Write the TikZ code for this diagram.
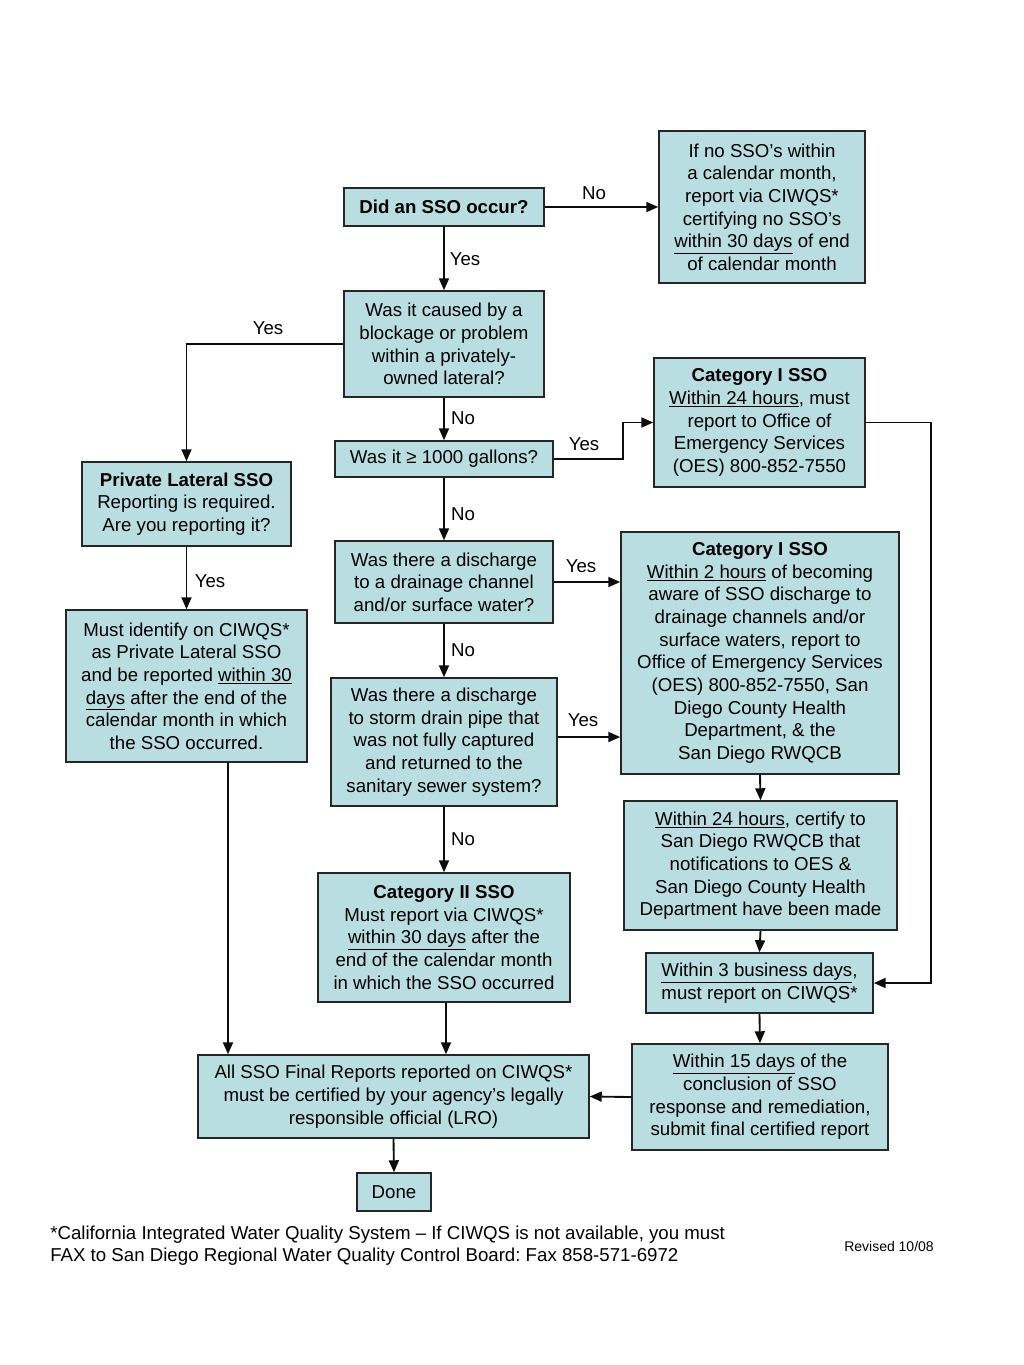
\documentclass[tikz,border=0pt]{standalone}
\usepackage{fontspec}
\setmainfont{Liberation Sans}
\usetikzlibrary{arrows.meta,calc}
\definecolor{boxfill}{RGB}{185,222,225}
\frenchspacing
\begin{document}
\begin{tikzpicture}[x=0.75pt,y=-0.75pt,
  box/.style={draw=black!85, line width=1.1pt, fill=boxfill, align=center, inner sep=0pt,
              font=\fontsize{14}{17}\selectfont, text=black},
  conn/.style={line width=1.4pt, draw=black!95, -{Triangle[length=9pt,width=7.5pt]}},
  lbl/.style={font=\fontsize{14}{17}\selectfont, inner sep=0pt, text=black}]
\useasboundingbox (0,0) rectangle (1024,1365);
\fill[white] (0,0) rectangle (1024,1365);

\node[box, minimum width=150pt, minimum height=28.5pt] (n1) at (444,207) {\textbf{Did an SSO occur?}};
\node[box, minimum width=154.5pt, minimum height=114pt] (n2) at (762,207)
  {If no SSO’s within\\a calendar month,\\report via CIWQS*\\certifying no SSO’s\\\underline{within 30 days} of end\\of calendar month};
\node[box, minimum width=150pt, minimum height=79.5pt] (n3) at (444,344)
  {Was it caused by a\\blockage or problem\\within a privately-\\owned lateral?};
\node[box, minimum width=156.75pt, minimum height=63pt] (n5) at (186.5,504)
  {\textbf{Private Lateral SSO}\\Reporting is required.\\Are you reporting it?};
\node[box, minimum width=180.75pt, minimum height=114pt] (n6) at (186.5,686)
  {Must identify on CIWQS*\\as Private Lateral SSO\\and be reported \underline{within 30}\\\underline{days} after the end of the\\calendar month in which\\the SSO occurred.};
\node[box, minimum width=163.5pt, minimum height=27pt] (n7) at (444,459) {Was it ≥ 1000 gallons?};
\node[box, minimum width=158.25pt, minimum height=96.75pt] (n8) at (759.5,422.5)
  {\textbf{Category I SSO}\\\underline{Within 24 hours}, must\\report to Office of\\Emergency Services\\(OES) 800-852-7550};
\node[box, minimum width=163.5pt, minimum height=61.5pt] (n9) at (444,582)
  {Was there a discharge\\to a drainage channel\\and/or surface water?};
\node[box, minimum width=208.5pt, minimum height=181.5pt] (n10) at (760,653)
  {\textbf{Category I SSO}\\\underline{Within 2 hours} of becoming\\aware of SSO discharge to\\drainage channels and/or\\surface waters, report to\\Office of Emergency Services\\(OES) 800-852-7550, San\\Diego County Health\\Department, \& the\\San Diego RWQCB};
\node[box, minimum width=169.5pt, minimum height=96pt] (n11) at (444,742)
  {Was there a discharge\\to storm drain pipe that\\was not fully captured\\and returned to the\\sanitary sewer system?};
\node[box, minimum width=189pt, minimum height=96.75pt] (n12) at (444,937.5)
  {\textbf{Category II SSO}\\Must report via CIWQS*\\\underline{within 30 days} after the\\end of the calendar month\\in which the SSO occurred};
\node[box, minimum width=204.75pt, minimum height=96.75pt] (n13) at (760.5,865.5)
  {\underline{Within 24 hours}, certify to\\San Diego RWQCB that\\notifications to OES \&\\San Diego County Health\\Department have been made};
\node[box, minimum width=170.25pt, minimum height=45pt] (n14) at (759.5,983)
  {\underline{Within 3 business days},\\must report on CIWQS*};
\node[box, minimum width=192pt, minimum height=79.5pt] (n15) at (760,1097)
  {\underline{Within 15 days} of the\\conclusion of SSO\\response and remediation,\\submit final certified report};
\node[box, minimum width=293.25pt, minimum height=62.25pt] (n16) at (393.5,1096.5)
  {All SSO Final Reports reported on CIWQS*\\must be certified by your agency’s legally\\responsible official (LRO)};
\node[box, minimum width=55.5pt, minimum height=28.5pt] (n17) at (394,1192) {Done};

% connectors
\draw[conn] (n1.east) -- (n2.west);
\draw[conn] (n1.south) -- (n3.north);
\draw[conn] (n3.west) -| (n5.north);
\draw[conn] (n5.south) -- (n6.north);
\draw[conn] (n3.south) -- (n7.north);
\draw[conn] (n7.east) -- ++(69,0) |- (n8.west);
\draw[conn] (n7.south) -- (n9.north);
\draw[conn] (n9.east) -- (n9.east -| n10.west);
\draw[conn] (n9.south) -- (n11.north);
\draw[conn] ($(n11.east)+(0,-5)$) -- ($(n11.east -| n10.west)+(0,-5)$);
\draw[conn] (n11.south) -- (n12.north);
\draw[conn] (n10.south) -- (n13.north);
\draw[conn] (n13.south) -- (n14.north);
\draw[conn] (n8.east) -- ++(65,0) |- (n14.east);
\draw[conn] (n14.south) -- (n15.north);
\draw[conn] (n15.west) -- (n16.east);
\draw[conn] ($(n6.south)+(41.5,0)$) coordinate (a6) -- (a6 |- n16.north);
\draw[conn] ($(n12.south)+(2,0)$) coordinate (a12) -- (a12 |- n16.north);
\draw[conn] (n16.south) -- (n17.north);

% labels
\node[lbl] (l1) at (594,193) {No};
\node[lbl] (l2) at (465,259) {Yes};
\node[lbl] (l3) at (268,328) {Yes};
\node[lbl] (l4) at (463,418) {No};
\node[lbl] (l5) at (584,444) {Yes};
\node[lbl] (l6) at (463,514) {No};
\node[lbl] (l7) at (210,581) {Yes};
\node[lbl] (l8) at (581,566) {Yes};
\node[lbl] (l9) at (463,650) {No};
\node[lbl] (l10) at (583,720) {Yes};
\node[lbl] (l11) at (463,839) {No};

% footnote
\node[lbl, anchor=west, align=left] (foot) at (50,1245.5)
  {*California Integrated Water Quality System – If CIWQS is not available, you must\\FAX to San Diego Regional Water Quality Control Board: Fax 858-571-6972};
\node[lbl, font=\fontsize{10.5}{12}\selectfont] (rev) at (889,1246) {Revised 10/08};
\end{tikzpicture}
\end{document}
